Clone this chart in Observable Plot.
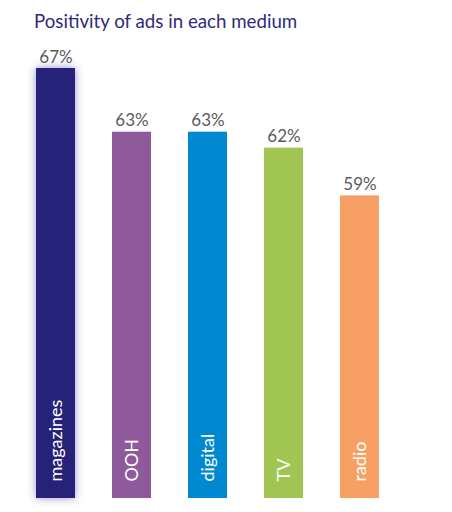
<!DOCTYPE html>
<html>
<head>
<meta charset="utf-8">
<script src="https://cdn.jsdelivr.net/npm/d3@7"></script>
<script src="https://cdn.jsdelivr.net/npm/@observablehq/plot@0.6"></script>
<style>
  html, body { margin: 0; padding: 0; background: #fff; }
  #title { font-family: Lato, sans-serif; font-size: 18.7px; line-height: 22px; padding: 10px 0 0 34px; height: 22px; color: #2d2a7e; white-space: nowrap; }
  svg { display: block; }
</style>
</head>
<body>
<div id="title">Positivity of ads in each medium</div>
<div id="chart"></div>
<script>
const media = ["magazines", "OOH", "digital", "TV", "radio"];
const values = [67, 63, 63, 62, 59];
const labels = ["67%", "63%", "63%", "62%", "59%"];
const colors = ["#27237a", "#8f5a9c", "#0089d0", "#a0c553", "#f89f65"];

const data = media.map((m, i) => ({medium: m, value: values[i], label: labels[i], color: colors[i]}));

const chart = Plot.plot({
  width: 452,
  height: 480,
  marginTop: 36,
  marginBottom: 14,
  marginLeft: 17,
  marginRight: 54,
  style: {fontFamily: "Lato, sans-serif", background: "#fff"},
  x: {domain: media, paddingInner: 0.49, paddingOuter: 0.25, axis: null},
  y: {domain: [40, 67], axis: null},
  color: {domain: media, range: colors},
  marks: [
    Plot.barY(data, {x: "medium", y1: 40, y2: "value", fill: "medium"}),
    Plot.text(data, {x: "medium", y: "value", text: "label", dy: -6, lineAnchor: "bottom", fill: "#5a5a5a", fontSize: 17}),
    Plot.text(data, {x: "medium", text: "medium", frameAnchor: "bottom", rotate: -90, textAnchor: "start", lineAnchor: "middle", dy: -17, fill: "#fff", fontSize: 18})
  ]
});

document.getElementById("chart").appendChild(chart);

// soft glow around the highlighted first bar
const svg = d3.select(chart);
const defs = svg.insert("defs", ":first-child");
const f = defs.append("filter").attr("id", "glow").attr("x", "-60%").attr("y", "-10%").attr("width", "220%").attr("height", "120%");
f.append("feDropShadow").attr("dx", 0).attr("dy", 0).attr("stdDeviation", 4).attr("flood-color", "#3d39a8").attr("flood-opacity", 0.55);
svg.select("g[aria-label='bar'] rect").attr("filter", "url(#glow)");
</script>
</body>
</html>
